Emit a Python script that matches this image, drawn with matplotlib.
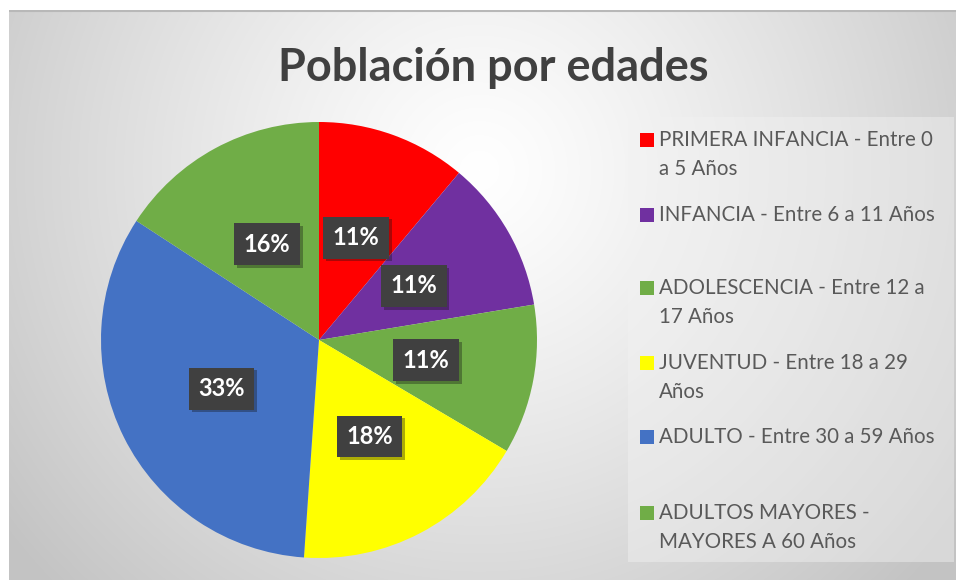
import numpy as np
import matplotlib
matplotlib.use('Agg')
import matplotlib.pyplot as plt
import matplotlib.patheffects as pe
from matplotlib.patches import Rectangle

plt.rcParams['font.family'] = ['Lato', 'DejaVu Sans']
plt.rcParams['hatch.color'] = '#5c5c5c'
plt.rcParams['hatch.linewidth'] = 0.6

# datos del gráfico
categorias = ['PRIMERA INFANCIA - Entre 0\na 5 Años',
              'INFANCIA - Entre 6 a 11 Años',
              'ADOLESCENCIA - Entre 12 a\n17 Años',
              'JUVENTUD - Entre 18 a 29\nAños',
              'ADULTO - Entre 30 a 59 Años',
              'ADULTOS MAYORES -\nMAYORES A 60 Años']
valores = [11.1, 11.3, 11.1, 17.6, 33.1, 15.8]
colores = ['#ff0000', '#7030a0', '#70ad47', '#ffff00', '#4472c4', '#70ad47']

W, H = 956, 583
fig = plt.figure(figsize=(W / 100, H / 100), dpi=100)
fig.patch.set_facecolor('white')

# fondo con degradado radial
bg = fig.add_axes([9 / W, 1 - 580 / H, 947 / W, 570 / H])
yy, xx = np.mgrid[0:570, 0:947]
dist = np.sqrt((xx - 470) ** 2 + (yy - 160) ** 2)
shade = 255 - np.clip(dist / 600, 0, 1) ** 1.2 * 60
img = np.dstack([shade, shade, shade]) / 255
bg.imshow(img, aspect='auto', interpolation='bilinear')
bg.axhline(0, color='#b8b8b8', lw=1.5)
bg.set_axis_off()

# caja de la leyenda
fig.patches.append(Rectangle((628 / W, 1 - 562 / H), 326 / W, 445 / H,
                             transform=fig.transFigure, facecolor='#f2f2f2',
                             alpha=0.45, edgecolor='none', zorder=1))

# título
fig.text(493 / W, 1 - 68 / H, 'Población por edades', ha='center', va='center',
         fontsize=32.5, fontweight='bold', color='#404040')

# pastel
R = 218
cx, cy = 319, 340
ax = fig.add_axes([(cx - R) / W, 1 - (cy + R) / H, 2 * R / W, 2 * R / H])
wedges, textos, autotextos = ax.pie(valores, colors=colores, startangle=90,
                                    counterclock=False, autopct='%.0f%%',
                                    pctdistance=0.5,
                                    wedgeprops=dict(linewidth=0))
ax.set_xlim(-1, 1)
ax.set_ylim(-1, 1)
for t in textos:
    t.set_visible(False)
for t in autotextos:
    t.set_color('white')
    t.set_fontsize(17)
    t.set_fontweight('bold')
    t.set_bbox(dict(boxstyle='square,pad=0.4', facecolor='#404040',
                    edgecolor='none', hatch='..'))
    t.get_bbox_patch().set_path_effects(
        [pe.SimplePatchShadow(offset=(2, -2), alpha=0.35), pe.Normal()])

# leyenda manual
y_entradas = [140, 215, 288, 363, 437, 513]
for lab, col, y in zip(categorias, colores, y_entradas):
    fig.patches.append(Rectangle((640 / W, 1 - (y + 7) / H), 14 / W, 14 / H,
                                 transform=fig.transFigure, facecolor=col,
                                 edgecolor='none', zorder=3))
    for i, linea in enumerate(lab.split('\n')):
        fig.text(659 / W, 1 - (y + i * 29) / H, linea, ha='left', va='center',
                 fontsize=14.8, color='#595959')

fig.savefig('out.png', dpi=100)
